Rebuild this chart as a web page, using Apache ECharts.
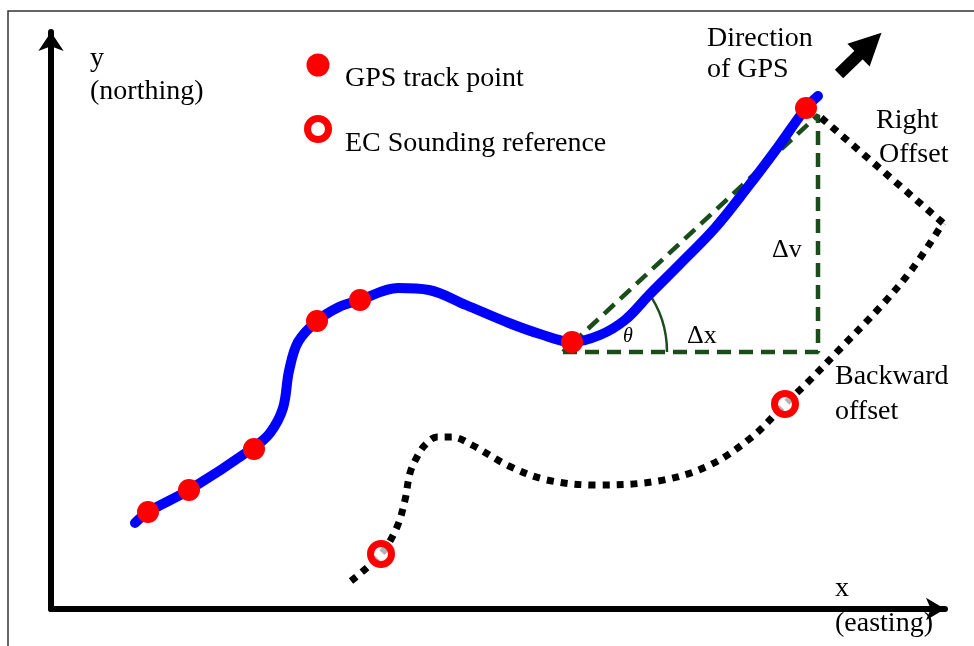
<!DOCTYPE html>
<html>
<head>
<meta charset="utf-8">
<script src="https://cdn.jsdelivr.net/npm/echarts@6/dist/echarts.min.js"></script>
<style>
  html, body { margin: 0; padding: 0; background: #fff; }
  #chart { width: 974px; height: 646px; }
</style>
</head>
<body>
<div id="chart"></div>
<script>
// values, units from the axis origin (easting, northing)
var gpsTrack = [
  [84, 86], [97, 97], [138, 119], [202, 161], [219, 176], [232, 201],
  [238, 238], [247, 267], [266, 288], [288, 302], [309, 309], [347, 321],
  [378, 319], [415, 304], [458, 286], [489, 275], [521, 267], [549, 274],
  [574, 289], [599, 315], [629, 345], [664, 381], [696, 421], [727, 462],
  [755, 501], [767, 513]
];
var gpsPoints = [[97, 97], [138, 119], [203, 160], [266, 288], [309, 309], [521, 267], [755, 501]];
var soundingRefs = [[330, 55], [734, 205]];
var offsetCurve = [
  [300, 28], [330, 55], [346, 82], [354, 109], [359, 136], [366, 152],
  [374, 164], [386, 172], [401, 172], [421, 164], [458, 143], [496, 129],
  [545, 124], [607, 128], [657, 143], [701, 172], [734, 205], [756, 226],
  [788, 259], [831, 304], [862, 341], [892, 386]
];
var offsetReturn = [[892, 386], [767, 494]];
var triangle = [[512, 257], [767, 257], [767, 494], [512, 257]];
var thetaArc = [[512, 257, 104, 36]];   // centre x, centre y, radius, angle (deg)
var directionArrow = [[788, 535], [819, 565]];

var green = '#1b4d1b';
var serif = 'Liberation Serif';

// x, baseline y
function txt(x, y, s, size, style) {
  size = size || 28;
  return {
    type: 'text', x: x, y: y - Math.round(size * 0.78),
    style: {
      text: s, fill: '#000',
      font: (style || '') + ' ' + size + 'px "' + serif + '"'
    }
  };
}

var chart = echarts.init(document.getElementById('chart'));
chart.setOption({
  animation: false,
  backgroundColor: '#fff',
  grid: { left: 51, right: 29, top: 32, bottom: 37, outerBoundsMode: 'none' },
  xAxis: {
    type: 'value', min: 0, max: 894,
    axisLine: { show: true, onZero: false, symbol: ['none', 'arrow'], symbolSize: [17, 19],
      lineStyle: { color: '#000', width: 6 } },
    axisTick: { show: false }, axisLabel: { show: false }, splitLine: { show: false }
  },
  yAxis: {
    type: 'value', min: 0, max: 577,
    axisLine: { show: true, onZero: false, symbol: ['none', 'arrow'], symbolSize: [19, 19],
      lineStyle: { color: '#000', width: 6 } },
    axisTick: { show: false }, axisLabel: { show: false }, splitLine: { show: false }
  },
  graphic: [
    { type: 'rect', shape: { x: 8, y: 11, width: 1000, height: 700 },
      style: { fill: null, stroke: '#333', lineWidth: 1.5 } },
    { type: 'circle', shape: { cx: 318, cy: 65, r: 11.5 }, style: { fill: '#ff0000' } },
    { type: 'circle', shape: { cx: 318, cy: 129, r: 10.5 },
      style: { fill: '#fff', stroke: '#ff0000', lineWidth: 7 } },
    txt(90, 67, 'y'),
    txt(90, 100, '(northing)'),
    txt(345, 87, 'GPS track point'),
    txt(345, 152, 'EC Sounding reference'),
    txt(707, 47, 'Direction'),
    txt(707, 78, 'of GPS'),
    txt(876, 129, 'Right'),
    txt(879, 163, 'Offset'),
    txt(772, 257, '\u0394v', 26),
    txt(623, 343, '\u03b8', 20, 'italic'),
    txt(687, 343, '\u0394x', 26),
    txt(835, 385, 'Backward'),
    txt(835, 420, 'offset'),
    txt(835, 597, 'x'),
    txt(835, 632, '(easting)')
  ],
  series: [
    {
      type: 'line', data: triangle, symbol: 'none', clip: false, z: 2,
      lineStyle: { color: green, width: 4.5, type: [14, 8] }
    },
    {
      type: 'custom', data: thetaArc, clip: false, z: 2,
      renderItem: function (params, api) {
        var c = api.coord([api.value(0), api.value(1)]);
        var r = api.size([api.value(2), 0])[0];
        return {
          type: 'arc',
          shape: { cx: c[0], cy: c[1], r: r, startAngle: -api.value(3) * Math.PI / 180, endAngle: 0, clockwise: true },
          style: { stroke: green, lineWidth: 2.5, fill: null }
        };
      }
    },
    {
      type: 'line', data: offsetCurve, smooth: 0.35, symbol: 'none', clip: false, z: 3,
      lineStyle: { color: '#000', width: 7, type: [7, 7], cap: 'butt' }
    },
    {
      type: 'line', data: offsetReturn, symbol: 'none', clip: false, z: 3,
      lineStyle: { color: '#000', width: 7, type: [7, 7], cap: 'butt' }
    },
    {
      type: 'line', data: gpsTrack, smooth: 0.35, symbol: 'none', clip: false, z: 4,
      lineStyle: { color: '#0000ff', width: 10, cap: 'round' }
    },
    {
      type: 'scatter', data: gpsPoints, symbol: 'circle', symbolSize: 22, clip: false, z: 5,
      itemStyle: { color: '#ff0000', opacity: 1 }
    },
    {
      type: 'scatter', data: soundingRefs, symbol: 'circle', symbolSize: 21, clip: false, z: 5,
      itemStyle: { color: 'rgba(255,255,255,0.7)', borderColor: '#ff0000', borderWidth: 7, opacity: 1 }
    },
    {
      type: 'lines', coordinateSystem: 'cartesian2d', clip: false, z: 5,
      symbol: ['none', 'triangle'], symbolSize: [36, 32],
      lineStyle: { color: '#000', width: 12, opacity: 1 },
      data: [{ coords: directionArrow }]
    }
  ]
});
</script>
</body>
</html>
